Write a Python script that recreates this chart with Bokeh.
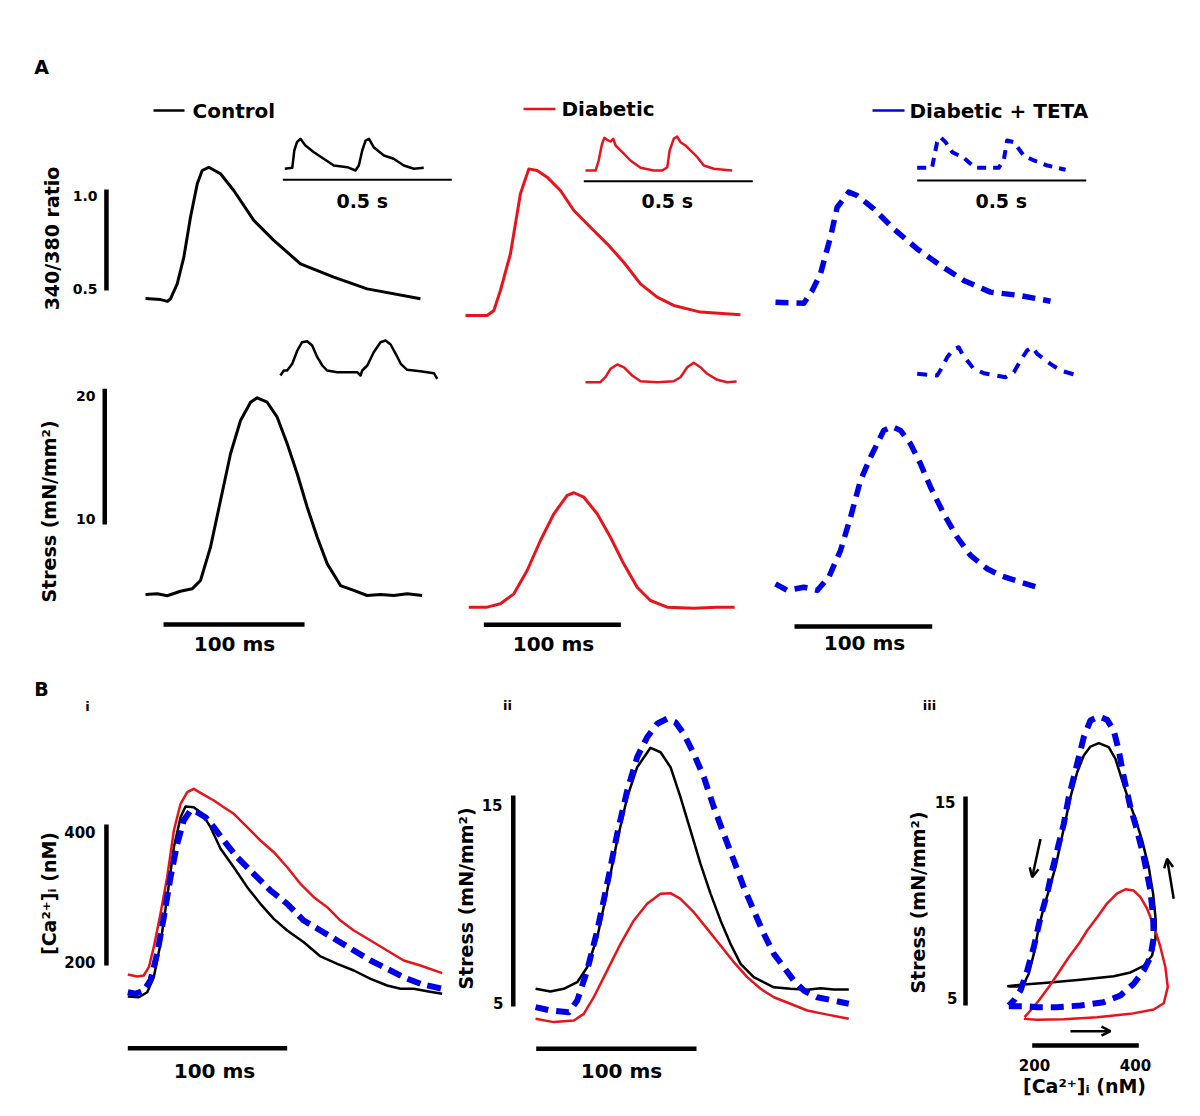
import numpy as np
from bokeh.plotting import figure
from bokeh.models import Range1d, Arrow, OpenHead, Label
from bokeh.embed import file_html
from bokeh.resources import INLINE

# ---------------- DATA ----------------
# Panel A, 340/380 ratio transients (time ms, ratio)
ctrl_ratio_t = [0, 10.6, 15.6, 17.7, 22.5, 27.2, 31.9, 36.7, 40.2, 44.9, 53.2, 62.6, 76.8, 91.0, 109.9, 133.5, 157.2, 195.0]
ctrl_ratio_v = [0.460, 0.455, 0.446, 0.459, 0.533, 0.665, 0.863, 1.028, 1.094, 1.110, 1.078, 0.995, 0.847, 0.748, 0.632, 0.566, 0.508, 0.459]
diab_ratio_t = [0, 15.8, 20.7, 25.5, 32.8, 40.1, 46.2, 52.3, 59.6, 69.3, 79.1, 91.2, 103.4, 115.5, 127.7, 139.9, 152.0, 171.5, 200.7]
diab_ratio_v = [0.376, 0.376, 0.401, 0.500, 0.682, 0.979, 1.102, 1.094, 1.061, 0.995, 0.896, 0.813, 0.731, 0.640, 0.533, 0.467, 0.426, 0.393, 0.380]
teta_ratio_t = [0, 20.6, 26.7, 32.7, 39.9, 44.8, 53.2, 59.3, 71.4, 85.9, 102.9, 119.8, 136.7, 156.1, 177.9, 199.7]
teta_ratio_v = [0.442, 0.437, 0.500, 0.583, 0.764, 0.912, 0.987, 0.970, 0.904, 0.805, 0.706, 0.624, 0.550, 0.492, 0.475, 0.447]

# Panel A, ratio insets (time s, ratio, inset scale)
ctrl_ratio_in_t = [0.006, 0.028, 0.034, 0.042, 0.052, 0.067, 0.092, 0.121, 0.151, 0.191, 0.215, 0.225, 0.235, 0.245, 0.255, 0.269, 0.299, 0.328, 0.358, 0.388, 0.417]
ctrl_ratio_in_v = [0.539, 0.561, 0.937, 1.117, 1.191, 1.046, 0.900, 0.757, 0.611, 0.574, 0.502, 0.611, 0.937, 1.154, 1.191, 1.009, 0.828, 0.757, 0.611, 0.539, 0.561]
diab_ratio_in_t = [0.005, 0.035, 0.044, 0.054, 0.061, 0.069, 0.079, 0.087, 0.094, 0.114, 0.138, 0.168, 0.207, 0.232, 0.247, 0.254, 0.266, 0.276, 0.286, 0.301, 0.321, 0.336, 0.355, 0.385, 0.414, 0.439]
diab_ratio_in_v = [0.533, 0.533, 0.750, 1.113, 1.243, 1.200, 1.163, 1.222, 1.076, 0.930, 0.750, 0.591, 0.533, 0.533, 0.604, 0.967, 1.222, 1.272, 1.148, 1.076, 0.930, 0.822, 0.641, 0.570, 0.548, 0.533]
teta_ratio_in_t = [0.000, 0.044, 0.049, 0.059, 0.069, 0.084, 0.104, 0.138, 0.172, 0.241, 0.256, 0.266, 0.286, 0.315, 0.345, 0.385, 0.439]
teta_ratio_in_v = [0.576, 0.576, 0.772, 1.133, 1.241, 1.133, 0.915, 0.793, 0.576, 0.576, 0.735, 1.170, 1.133, 0.843, 0.735, 0.626, 0.533]

# Panel A, stress transients (time ms, mN/mm2)
ctrl_stress_t = [0, 8.3, 15.4, 24.8, 33.1, 39.0, 46.1, 53.2, 60.3, 67.4, 74.5, 79.2, 86.3, 93.4, 100.5, 107.6, 114.7, 121.8, 128.9, 138.3, 147.7, 157.2, 166.7, 176.1, 185.6, 196.2]
ctrl_stress_v = [4.84, 4.89, 4.75, 5.08, 5.26, 5.87, 8.33, 11.77, 15.21, 17.66, 19.01, 19.34, 19.01, 17.91, 15.95, 13.74, 11.27, 9.06, 7.10, 5.50, 5.14, 4.77, 4.84, 4.77, 4.89, 4.77]
diab_stress_t = [2.4, 15.8, 25.5, 35.3, 45.0, 54.7, 64.5, 74.2, 79.1, 86.4, 96.1, 105.8, 115.5, 125.3, 135.0, 147.2, 166.6, 183.7, 196.4]
diab_stress_v = [3.91, 3.91, 4.16, 4.89, 6.61, 8.82, 10.79, 12.14, 12.34, 12.01, 10.79, 9.06, 7.10, 5.38, 4.40, 3.91, 3.83, 3.91, 3.91]
teta_stress_t = [0, 8.5, 20.6, 30.3, 38.7, 47.2, 54.5, 61.7, 69.0, 78.6, 84.7, 90.8, 98.0, 105.3, 112.6, 122.2, 132.0, 141.6, 153.7, 163.4, 177.9, 190.0]
teta_stress_v = [5.63, 5.14, 5.38, 5.14, 6.12, 8.08, 10.54, 13.24, 14.96, 16.93, 17.22, 16.93, 15.95, 14.47, 12.75, 10.79, 9.06, 7.72, 6.74, 6.24, 5.75, 5.38]

# Panel A, stress insets (time s, mN/mm2, inset scale)
ctrl_stress_in_t = [-0.007, 0.003, 0.013, 0.028, 0.043, 0.057, 0.072, 0.087, 0.102, 0.117, 0.131, 0.161, 0.220, 0.230, 0.235, 0.250, 0.269, 0.289, 0.304, 0.319, 0.334, 0.349, 0.368, 0.407, 0.447, 0.457]
ctrl_stress_in_v = [5.45, 7.73, 7.73, 10.77, 16.82, 20.59, 21.05, 19.09, 13.77, 10.00, 7.73, 6.95, 6.95, 5.45, 7.73, 10.00, 16.05, 20.59, 21.36, 19.55, 15.32, 10.77, 8.05, 7.41, 6.50, 3.95]
diab_stress_in_t = [0.005, 0.049, 0.064, 0.079, 0.099, 0.118, 0.143, 0.168, 0.217, 0.266, 0.286, 0.306, 0.325, 0.345, 0.365, 0.395, 0.424, 0.452]
diab_stress_in_v = [2.41, 2.41, 4.68, 8.50, 10.45, 9.23, 5.45, 2.86, 2.41, 2.86, 4.68, 9.23, 11.23, 9.23, 6.23, 3.50, 2.41, 2.73]
teta_stress_in_t = [0.000, 0.059, 0.074, 0.089, 0.108, 0.123, 0.133, 0.167, 0.197, 0.261, 0.286, 0.306, 0.325, 0.340, 0.355, 0.394, 0.424, 0.468, 0.483]
teta_stress_in_v = [6.23, 5.45, 9.23, 13.77, 17.59, 18.32, 15.32, 8.50, 6.50, 4.68, 6.95, 12.27, 16.82, 18.32, 15.32, 10.77, 7.73, 5.77, 5.45]

# Panel B-i, [Ca2+]i (time ms, nM)
bi_ctrl_t = [0, 6.9, 12.2, 16.3, 20.5, 24.7, 28.9, 33.1, 36.2, 41.4, 46.7, 51.9, 58.2, 66.5, 74.9, 83.2, 91.6, 100.0, 110.4, 120.9, 131.4, 141.8, 152.3, 162.7, 171.1, 179.4, 187.8, 197.2]
bi_ctrl_v = [156.0, 155.0, 162.1, 183.4, 230.8, 296.9, 367.8, 410.3, 425.5, 424.5, 415.2, 396.2, 365.5, 339.4, 311.1, 287.5, 266.2, 249.6, 233.0, 212.8, 202.4, 192.9, 181.1, 171.6, 167.0, 167.0, 163.5, 159.9]
bi_diab_t = [0, 5.9, 10.0, 13.2, 16.3, 20.5, 24.7, 28.9, 33.1, 37.3, 41.4, 46.7, 54.0, 60.2, 66.5, 74.9, 83.2, 91.6, 100.0, 108.3, 116.7, 125.1, 133.4, 141.8, 152.3, 162.7, 173.1, 183.6, 197.2]
bi_diab_v = [187.2, 184.4, 185.8, 197.6, 226.0, 273.3, 325.2, 391.5, 429.4, 445.8, 450.6, 443.5, 434.0, 424.5, 415.2, 396.2, 377.3, 360.7, 339.4, 315.9, 296.9, 282.7, 263.8, 249.6, 235.5, 221.3, 207.1, 200.0, 189.1]
bi_teta_t = [0, 4.8, 10.0, 14.2, 18.4, 22.6, 26.8, 31.0, 35.1, 39.3, 43.5, 48.7, 54.0, 60.2, 68.6, 79.0, 89.5, 100.0, 110.4, 120.9, 131.4, 141.8, 152.3, 162.7, 173.1, 183.6, 197.2]
bi_teta_v = [162.1, 159.9, 164.5, 178.7, 216.6, 268.5, 325.2, 372.6, 405.7, 419.9, 417.4, 410.3, 396.2, 377.3, 353.6, 330.1, 306.4, 287.5, 263.8, 249.6, 235.5, 221.3, 207.1, 195.3, 183.4, 174.0, 167.0]

# Panel B-ii, stress (time ms, mN/mm2)
bii_ctrl_t = [-0.4, 8.9, 17.2, 25.6, 31.8, 38.1, 44.3, 50.5, 56.8, 63.0, 71.3, 77.6, 83.8, 90.0, 96.3, 102.5, 108.8, 115.0, 121.2, 127.5, 135.7, 148.2, 158.6, 169.1, 177.4, 185.7, 195.0]
bii_ctrl_v = [5.84, 5.71, 5.84, 6.15, 6.86, 8.28, 10.50, 12.87, 14.92, 16.34, 17.26, 17.05, 16.34, 14.92, 13.34, 11.76, 10.34, 9.08, 7.97, 7.02, 6.39, 5.91, 5.84, 5.79, 5.87, 5.81, 5.81]
bii_diab_t = [-0.4, 11.0, 23.5, 29.7, 35.9, 44.3, 52.6, 60.9, 69.2, 77.5, 83.8, 90.0, 98.3, 106.7, 115.0, 123.3, 131.6, 140.0, 148.3, 158.6, 169.1, 179.4, 195.0]
bii_diab_v = [4.42, 4.26, 4.34, 4.65, 5.44, 6.71, 7.97, 9.08, 9.87, 10.34, 10.37, 10.10, 9.47, 8.68, 7.89, 7.10, 6.39, 5.84, 5.44, 5.13, 4.81, 4.65, 4.42]
bii_teta_t = [-0.4, 8.9, 20.3, 25.6, 31.8, 38.1, 44.3, 50.5, 56.8, 63.0, 69.2, 75.5, 81.7, 86.9, 92.1, 98.3, 104.6, 110.8, 117.0, 123.3, 129.5, 135.7, 142.0, 148.2, 154.5, 160.7, 166.9, 175.3, 185.7, 195.0]
bii_teta_v = [4.97, 4.81, 4.73, 5.28, 6.71, 8.60, 10.82, 13.18, 15.24, 16.82, 17.76, 18.40, 18.64, 18.47, 17.92, 16.98, 15.87, 14.45, 13.18, 11.92, 10.65, 9.55, 8.45, 7.50, 6.86, 6.23, 5.76, 5.44, 5.28, 5.13]

# Panel B-iii, stress vs [Ca2+]i loops (nM, mN/mm2)
biii_ctrl_ca = [153.1, 178.1, 228.1, 290.6, 353.0, 384.3, 409.3, 425.0, 431.2, 431.8, 426.9, 418.6, 406.3, 393.7, 381.1, 368.8, 356.2, 343.6, 324.9, 309.3, 296.8, 284.4, 271.8, 262.4, 253.1, 243.7, 231.1, 221.8, 212.4, 203.0, 193.6, 184.3, 171.9, 156.1]
biii_ctrl_s = [5.92, 5.99, 6.09, 6.23, 6.40, 6.58, 6.90, 7.39, 8.19, 9.07, 10.34, 11.62, 12.89, 13.93, 14.81, 15.77, 16.80, 17.36, 17.55, 17.39, 16.96, 16.16, 14.97, 13.85, 12.74, 11.62, 10.50, 9.70, 8.75, 7.47, 6.52, 6.04, 5.91, 5.91]
biii_diab_ca = [184.3, 209.4, 259.3, 321.9, 384.3, 428.0, 446.8, 454.3, 449.9, 440.6, 428.0, 415.6, 403.1, 390.5, 374.9, 359.4, 340.6, 321.9, 303.1, 287.4, 268.6, 249.9, 231.1, 212.4, 196.8, 185.6]
biii_diab_s = [4.36, 4.32, 4.34, 4.44, 4.60, 4.81, 5.11, 5.88, 6.83, 7.79, 8.83, 9.63, 10.18, 10.50, 10.56, 10.37, 9.89, 9.22, 8.59, 7.95, 7.31, 6.59, 5.88, 5.24, 4.76, 4.44]
biii_teta_ca = [156.1, 184.3, 209.4, 246.9, 290.6, 334.3, 365.6, 390.5, 409.3, 421.8, 428.0, 426.9, 421.8, 409.3, 396.9, 384.3, 371.8, 362.4, 353.0, 340.6, 324.9, 309.3, 296.8, 287.4, 278.0, 268.6, 259.3, 249.9, 237.5, 228.1, 215.6, 203.0, 190.6, 178.1, 165.5, 156.1]
biii_teta_s = [4.97, 4.97, 4.92, 4.92, 5.00, 5.16, 5.48, 6.04, 6.67, 7.31, 8.27, 9.22, 10.50, 12.10, 13.37, 14.49, 15.92, 17.20, 18.16, 18.67, 18.83, 18.64, 17.84, 16.88, 15.92, 14.97, 13.69, 12.74, 11.46, 10.34, 9.22, 7.79, 6.67, 5.72, 5.24, 5.00]

# ---------------- STYLE / LAYOUT ----------------
W, H = 1184, 1100
OFF = 0
BLACK = "#000000"
RED = "#e8141c"
BLUE = "#0000e6"
FONT = "DejaVu Sans"

p = figure(width=W, height=H, output_backend="svg", toolbar_location=None,
           x_range=Range1d(OFF, OFF + W), y_range=Range1d(OFF + H, OFF),
           x_axis_location=None, y_axis_location=None, min_border=0,
           tools="")
p.grid.visible = False
p.outline_line_color = None
p.background_fill_color = "white"
p.border_fill_color = "white"

xr, yr = {}, {}


def xrange_(name, p0, v0, p1, v1):
    k = (v1 - v0) / (p1 - p0)
    xr[name] = Range1d(v0 + (OFF - p0) * k, v0 + (OFF + W - p0) * k)


def yrange_(name, p0, v0, p1, v1):
    k = (v1 - v0) / (p1 - p0)
    yr[name] = Range1d(v0 + (OFF + H - p0) * k, v0 + (OFF - p0) * k)


# panel A time axes (ms)
xrange_("a1", 145, 0, 286, 100)
xrange_("a2", 465, 0, 602, 100)
xrange_("a3", 775, 0, 912.7, 100)
# panel A value axes
yrange_("ratio", 290, 0.5, 189, 1.0)
yrange_("stress", 524, 10, 388.3, 20)
# insets (s)
xrange_("i1", 282.3, 0, 451.3, 0.5)
xrange_("i2", 583.3, 0, 752.3, 0.5)
xrange_("i3", 916.7, 0, 1085.7, 0.5)
yrange_("j1", 179.3, 0.3, 133.3, 1.3)
yrange_("j2", 180.7, 0.3, 134.7, 1.3)
yrange_("j3", 180.0, 0.3, 134.0, 1.3)
yrange_("k", 376, 5, 354, 15)
# panel B
xrange_("b1", 127.3, 0, 286.7, 100)
yrange_("b1y", 965, 200, 824, 400)
xrange_("b2", 535.7, 0, 696, 100)
yrange_("b2y", 1006, 5, 795, 15)
xrange_("b3", 1031.7, 200, 1138.3, 400)
yrange_("b3y", 1005, 5, 796, 15)

p.extra_x_ranges = xr
p.extra_y_ranges = yr


def trace(x, y, xn, yn, color, width, dash="solid"):
    p.line(x, y, x_range_name=xn, y_range_name=yn, line_color=color,
           line_width=width, line_dash=dash, line_join="round")


def bar(x0, y0, x1, y1, xn, yn, width):
    p.segment([x0], [y0], [x1], [y1], x_range_name=xn, y_range_name=yn,
              line_color=BLACK, line_width=width)


def label(text, x, y, size, align="center", angle=0.0, style="bold"):
    p.add_layout(Label(x=x, y=y, text=text, text_font=FONT, text_font_style=style,
                       text_font_size=size, text_align=align, text_baseline="middle",
                       angle=angle, text_color=BLACK))


DASH = "13 8"
# ---- Panel A: ratio ----
trace(ctrl_ratio_t, ctrl_ratio_v, "a1", "ratio", BLACK, 3)
trace(diab_ratio_t, diab_ratio_v, "a2", "ratio", RED, 3)
trace(teta_ratio_t, teta_ratio_v, "a3", "ratio", BLUE, 5.5, DASH)
trace(ctrl_ratio_in_t, ctrl_ratio_in_v, "i1", "j1", BLACK, 2.5)
trace(diab_ratio_in_t, diab_ratio_in_v, "i2", "j2", RED, 2.5)
trace(teta_ratio_in_t, teta_ratio_in_v, "i3", "j3", BLUE, 4, "9 7")
for xn, yn in (("i1", "j1"), ("i2", "j2"), ("i3", "j3")):
    bar(0, 0.3, 0.5, 0.3, xn, yn, 2)
# ratio scale bar
bar(-27.7, 0.5, -27.7, 1.0, "a1", "ratio", 4.5)

# ---- Panel A: stress ----
trace(ctrl_stress_t, ctrl_stress_v, "a1", "stress", BLACK, 3)
trace(diab_stress_t, diab_stress_v, "a2", "stress", RED, 3)
trace(teta_stress_t, teta_stress_v, "a3", "stress", BLUE, 5.5, DASH)
trace(ctrl_stress_in_t, ctrl_stress_in_v, "i1", "k", BLACK, 2.5)
trace(diab_stress_in_t, diab_stress_in_v, "i2", "k", RED, 2.5)
trace(teta_stress_in_t, teta_stress_in_v, "i3", "k", BLUE, 4, "10 8")
bar(-28.9, 10, -28.9, 20, "a1", "stress", 4.5)
bar(12.8, 2.63, 112.8, 2.63, "a1", "stress", 4.5)
bar(13.4, 2.61, 113.4, 2.61, "a2", "stress", 4.5)
bar(13.8, 2.48, 113.8, 2.48, "a3", "stress", 4.5)

# legend swatches
p.segment([153, 523, 872], [110, 108.5, 110], [184, 555, 904], [110, 108.5, 110],
          line_color=[BLACK, RED, BLUE], line_width=2.5)
label("Control", 192, 110, "20px", "left")
label("Diabetic", 561, 108.5, "20px", "left")
label("Diabetic + TETA", 909, 110, "20px", "left")

label("A", 41, 66, "19px")
label("B", 41, 688, "19px")
label("1.0", 97, 195, "14px", "right")
label("0.5", 97, 288, "14px", "right")
label("20", 95, 395, "14px", "right")
label("10", 95, 518, "14px", "right")
for cx in (361.7, 666.7, 1000.7):
    label("0.5 s", cx, 200.5, "19px")
for cx, cy in ((234, 643), (553, 643), (864, 642), (214, 1070), (621, 1070)):
    label("100 ms", cx, cy, "20px")
label("340/380 ratio", 51, 238, "19px", angle=np.pi / 2)
label("Stress (mN/mm\u00b2)", 48, 511, "19px", angle=np.pi / 2)

# ---- Panel B-i ----
trace(bi_ctrl_t, bi_ctrl_v, "b1", "b1y", BLACK, 2.5)
trace(bi_diab_t, bi_diab_v, "b1", "b1y", RED, 2.5)
trace(bi_teta_t, bi_teta_v, "b1", "b1y", BLUE, 6, "14 7")
bar(-13.4, 200, -13.4, 400, "b1", "b1y", 4.5)
bar(0, 82.7, 100, 82.7, "b1", "b1y", 4.5)
label("400", 95, 831, "15px", "right")
label("200", 95, 961, "15px", "right")
label("[Ca\u00b2\u207a]\u1d62 (nM)", 48, 893, "19px", angle=np.pi / 2)
label("i", 87, 706, "13px")

# ---- Panel B-ii ----
trace(bii_ctrl_t, bii_ctrl_v, "b2", "b2y", BLACK, 2.5)
trace(bii_diab_t, bii_diab_v, "b2", "b2y", RED, 2.5)
trace(bii_teta_t, bii_teta_v, "b2", "b2y", BLUE, 6, DASH)
bar(-14.3, 5, -14.3, 15, "b2", "b2y", 4.5)
bar(0, 3.0, 100, 3.0, "b2", "b2y", 4.5)
label("15", 502, 804, "15px", "right")
label("5", 503, 1002, "15px", "right")
label("Stress (mN/mm\u00b2)", 465, 898, "19px", angle=np.pi / 2)
label("ii", 507, 705, "13px")

# ---- Panel B-iii ----
trace(biii_ctrl_ca, biii_ctrl_s, "b3", "b3y", BLACK, 2.5)
trace(biii_diab_ca, biii_diab_s, "b3", "b3y", RED, 2.5)
trace(biii_teta_ca, biii_teta_s, "b3", "b3y", BLUE, 6, DASH)
bar(74.9, 5, 74.9, 15, "b3", "b3y", 4.5)
bar(200, 3.09, 400, 3.09, "b3", "b3y", 4.5)
label("15", 955, 801, "15px", "right")
label("5", 957, 997, "15px", "right")
label("200", 1034, 1064, "15px")
label("400", 1135, 1064, "15px")
label("[Ca\u00b2\u207a]\u1d62 (nM)", 1084, 1085, "19px")
label("Stress (mN/mm\u00b2)", 917, 902, "19px", angle=np.pi / 2)
label("iii", 929, 705, "13px")

for (xs, ys, xe, ye) in ((215.6, 12.97, 200.0, 11.14),
                         (465.5, 10.11, 453.1, 12.02),
                         (271.8, 3.77, 346.8, 3.77)):
    p.add_layout(Arrow(end=OpenHead(size=9, line_width=2.5, line_color=BLACK),
                       x_start=xs, y_start=ys, x_end=xe, y_end=ye,
                       x_range_name="b3", y_range_name="b3y",
                       line_color=BLACK, line_width=2.5))

open("out.html", "w").write(file_html(p, INLINE))
